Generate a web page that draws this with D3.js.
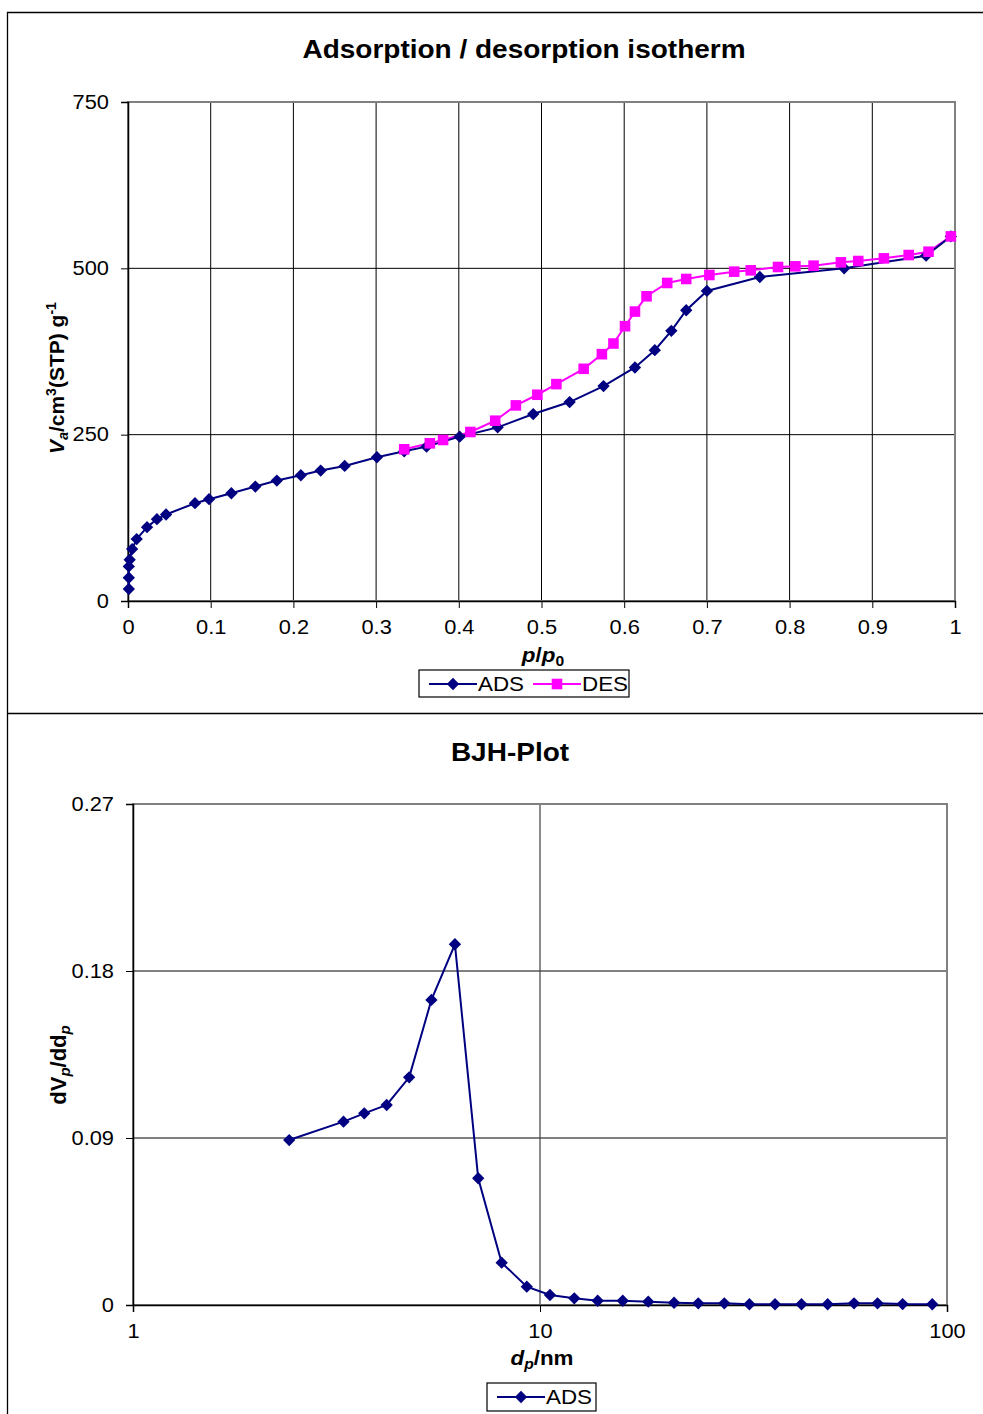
<!DOCTYPE html>
<html>
<head>
<meta charset="utf-8">
<script src="https://cdn.jsdelivr.net/npm/d3@7"></script>
<style>
  body { margin: 0; background: #fff; }
  svg { font-family: "Liberation Sans", Arial, sans-serif; }
</style>
</head>
<body>
<div id="chart"></div>
<script>
// isotherm data
var ads_p = [0.001, 0.001, 0.001, 0.002, 0.005, 0.0105, 0.023, 0.035, 0.046, 0.081, 0.098, 0.125, 0.154, 0.18, 0.209, 0.233, 0.262, 0.301, 0.334, 0.361, 0.401, 0.447, 0.49, 0.534, 0.575, 0.613, 0.637, 0.657, 0.675, 0.70, 0.764, 0.866, 0.965, 0.995];
var ads_v = [18, 35, 52, 62, 78, 93, 111, 123, 130, 147, 153, 162, 172, 181, 189, 196, 203, 216, 225, 232, 247, 261, 281, 299, 323, 351, 377, 406, 437, 466, 487, 500, 519, 548];
var des_p = [0.995, 0.968, 0.944, 0.914, 0.883, 0.862, 0.829, 0.807, 0.786, 0.753, 0.733, 0.703, 0.675, 0.652, 0.627, 0.613, 0.601, 0.587, 0.573, 0.551, 0.518, 0.495, 0.469, 0.444, 0.414, 0.381, 0.365, 0.334];
var des_v = [548, 525, 520, 515, 511, 509, 504, 503, 502, 497, 495, 490, 484, 478, 458, 435, 413, 387, 371, 349, 326, 310, 294, 271, 254, 242, 237, 228];
var iso_xticks = [0, 0.1, 0.2, 0.3, 0.4, 0.5, 0.6, 0.7, 0.8, 0.9, 1];
var iso_yticks = [0, 250, 500, 750];

// BJH pore size distribution
var bjh_d = [2.42, 3.29, 3.70, 4.20, 4.77, 5.41, 6.18, 7.05, 8.05, 9.28, 10.58, 12.14, 13.86, 15.97, 18.45, 21.35, 24.48, 28.37, 32.7, 37.8, 43.9, 50.9, 59.1, 67.5, 77.8, 92.0];
var bjh_v = [0.0889, 0.0988, 0.1033, 0.1078, 0.1227, 0.1644, 0.1944, 0.0683, 0.0228, 0.0099, 0.0054, 0.0036, 0.0023, 0.0023, 0.0018, 0.0012, 0.0009, 0.0009, 0.0004, 0.0004, 0.0004, 0.0004, 0.0009, 0.0009, 0.0005, 0.0004];
var bjh_xticks = [1, 10, 100];
var bjh_yticks = [0, 0.09, 0.18, 0.27];

var W = 983, H = 1414;
var ADS_COLOR = "#000080", DES_COLOR = "#FF00FF";
var SX = 1.12; // the original picture is a bit stretched sideways

var svg = d3.select("#chart").append("svg").attr("width", W).attr("height", H);

// outer frames
svg.append("path")
  .attr("d", "M983,12.5 H7.5 V1414 M7.5,713.5 H983")
  .attr("fill", "none").attr("stroke", "#000").attr("stroke-width", 1.3);

// diamond = square turned 45deg
var diamond = d3.symbol().type(d3.symbolSquare).size(76);
var square = d3.symbol().type(d3.symbolSquare).size(112);
function diaAt(x, y) { return "translate(" + x + "," + y + ") rotate(45)"; }

// text placed at (x,y) and stretched sideways
function wideText(x, y, size) {
  return svg.append("text")
    .attr("transform", "translate(" + x + "," + y + ") scale(" + SX + ",1)")
    .attr("font-size", size);
}

function styleTicks(a, left) {
  a.select(".domain").attr("stroke", "#000").attr("stroke-width", 1.5);
  a.selectAll("text")
    .attr("font-size", 19.5).attr("fill", "#000").attr("font-family", "Liberation Sans, Arial")
    .attr("transform", "scale(" + SX + ",1)");
  if (left) a.selectAll("text").attr("x", -19 / SX);
}

// ---------- chart 1: isotherm ----------
var x1 = d3.scaleLinear().domain([0, 1]).range([128, 955]);
var y1 = d3.scaleLinear().domain([0, 750]).range([601, 102]);
var g1 = svg.append("g");

// gridlines
g1.selectAll(".vgrid").data(iso_xticks.slice(1, -1)).enter().append("line")
  .attr("x1", d => x1(d)).attr("x2", d => x1(d))
  .attr("y1", y1(750)).attr("y2", y1(0))
  .attr("stroke", "#000").attr("stroke-width", 1);
g1.selectAll(".hgrid").data(iso_yticks.slice(1, -1)).enter().append("line")
  .attr("x1", x1(0)).attr("x2", x1(1))
  .attr("y1", d => y1(d)).attr("y2", d => y1(d))
  .attr("stroke", "#000").attr("stroke-width", 1);
// plot border
g1.append("rect")
  .attr("x", x1(0)).attr("y", y1(750))
  .attr("width", x1(1) - x1(0)).attr("height", y1(0) - y1(750))
  .attr("fill", "none").attr("stroke", "#808080").attr("stroke-width", 2);

// axes
g1.append("g").attr("transform", "translate(0," + y1(0) + ")")
  .call(d3.axisBottom(x1).tickValues(iso_xticks).tickSize(7).tickPadding(12)
    .tickFormat(d => d === 0 || d === 1 ? d3.format("d")(d) : d3.format(".1f")(d)))
  .call(a => styleTicks(a, false));
g1.append("g").attr("transform", "translate(" + x1(0) + ",0)")
  .call(d3.axisLeft(y1).tickValues(iso_yticks).tickSize(7))
  .call(a => styleTicks(a, true));

var adsData = ads_p.map((p, i) => [p, ads_v[i]]);
var desData = des_p.map((p, i) => [p, des_v[i]]);
var line1 = d3.line().x(d => x1(d[0])).y(d => y1(d[1]));

g1.append("path").datum(desData).attr("d", line1)
  .attr("fill", "none").attr("stroke", DES_COLOR).attr("stroke-width", 2);
g1.append("path").datum(adsData).attr("d", line1)
  .attr("fill", "none").attr("stroke", ADS_COLOR).attr("stroke-width", 2);
g1.selectAll(".ads").data(adsData).enter().append("path")
  .attr("d", diamond).attr("fill", ADS_COLOR)
  .attr("transform", d => diaAt(x1(d[0]), y1(d[1])));
g1.selectAll(".des").data(desData).enter().append("path")
  .attr("d", square).attr("fill", DES_COLOR)
  .attr("transform", d => "translate(" + x1(d[0]) + "," + y1(d[1]) + ")");

// titles and axis labels
wideText(524, 58, 25).attr("text-anchor", "middle").attr("font-weight", "bold")
  .text("Adsorption / desorption isotherm");

var xl1 = wideText(543, 662, 20).attr("text-anchor", "middle").attr("font-weight", "bold");
xl1.append("tspan").attr("font-style", "italic").text("p");
xl1.append("tspan").text("/");
xl1.append("tspan").attr("font-style", "italic").text("p");
xl1.append("tspan").attr("font-size", 14).attr("dy", 4).text("0");

var yl1 = svg.append("text").attr("transform", "translate(64,378) rotate(-90)")
  .attr("text-anchor", "middle").attr("font-size", 21).attr("font-weight", "bold");
yl1.append("tspan").attr("font-style", "italic").text("V");
yl1.append("tspan").attr("font-style", "italic").attr("font-size", 14).attr("dy", 4).text("a");
yl1.append("tspan").attr("dy", -4).text("/cm");
yl1.append("tspan").attr("font-size", 14).attr("dy", -8).text("3");
yl1.append("tspan").attr("dy", 8).text("(STP) g");
yl1.append("tspan").attr("font-size", 14).attr("dy", -8).text("-1");

// legend 1
var lg1 = svg.append("g").attr("transform", "translate(419,670)");
lg1.append("rect").attr("width", 210).attr("height", 27)
  .attr("fill", "#fff").attr("stroke", "#000").attr("stroke-width", 1.2);
lg1.append("line").attr("x1", 10).attr("x2", 58).attr("y1", 14).attr("y2", 14)
  .attr("stroke", ADS_COLOR).attr("stroke-width", 2);
lg1.append("path").attr("d", diamond).attr("fill", ADS_COLOR).attr("transform", diaAt(34, 14));
lg1.append("text").attr("transform", "translate(59,21) scale(" + SX + ",1)").attr("font-size", 20).text("ADS");
lg1.append("line").attr("x1", 114).attr("x2", 162).attr("y1", 14).attr("y2", 14)
  .attr("stroke", DES_COLOR).attr("stroke-width", 2);
lg1.append("path").attr("d", square).attr("fill", DES_COLOR).attr("transform", "translate(138,14)");
lg1.append("text").attr("transform", "translate(163,21) scale(" + SX + ",1)").attr("font-size", 20).text("DES");

// ---------- chart 2: BJH ----------
var x2 = d3.scaleLog().domain([1, 100]).range([133, 947]);
var y2 = d3.scaleLinear().domain([0, 0.27]).range([1305, 804]);
var g2 = svg.append("g");

g2.selectAll(".hgrid2").data(bjh_yticks.slice(1, -1)).enter().append("line")
  .attr("x1", x2(1)).attr("x2", x2(100))
  .attr("y1", d => y2(d)).attr("y2", d => y2(d))
  .attr("stroke", "#808080").attr("stroke-width", 2);
g2.selectAll(".vgrid2").data(bjh_xticks.slice(1, -1)).enter().append("line")
  .attr("x1", d => x2(d)).attr("x2", d => x2(d))
  .attr("y1", y2(0.27)).attr("y2", y2(0))
  .attr("stroke", "#404040").attr("stroke-width", 1.2);
g2.append("rect")
  .attr("x", x2(1)).attr("y", y2(0.27))
  .attr("width", x2(100) - x2(1)).attr("height", y2(0) - y2(0.27))
  .attr("fill", "none").attr("stroke", "#808080").attr("stroke-width", 2);

g2.append("g").attr("transform", "translate(0," + y2(0) + ")")
  .call(d3.axisBottom(x2).tickValues(bjh_xticks).tickSize(7).tickPadding(12).tickFormat(d3.format("d")))
  .call(a => styleTicks(a, false));
g2.append("g").attr("transform", "translate(" + x2(1) + ",0)")
  .call(d3.axisLeft(y2).tickValues(bjh_yticks).tickSize(7)
    .tickFormat(d => d === 0 ? "0" : d3.format(".2f")(d)))
  .call(a => styleTicks(a, true));

var bjhData = bjh_d.map((d, i) => [d, bjh_v[i]]);
var line2 = d3.line().x(d => x2(d[0])).y(d => y2(d[1]));
g2.append("path").datum(bjhData).attr("d", line2)
  .attr("fill", "none").attr("stroke", ADS_COLOR).attr("stroke-width", 2);
g2.selectAll(".bjh").data(bjhData).enter().append("path")
  .attr("d", diamond).attr("fill", ADS_COLOR)
  .attr("transform", d => diaAt(x2(d[0]), y2(d[1])));

wideText(510, 761, 25).attr("text-anchor", "middle").attr("font-weight", "bold").text("BJH-Plot");

var xl2 = wideText(542, 1365, 20).attr("text-anchor", "middle").attr("font-weight", "bold");
xl2.append("tspan").attr("font-style", "italic").text("d");
xl2.append("tspan").attr("font-style", "italic").attr("font-size", 14).attr("dy", 4).text("p");
xl2.append("tspan").attr("dy", -4).text("/nm");

var yl2 = svg.append("text").attr("transform", "translate(66,1065) rotate(-90)")
  .attr("text-anchor", "middle").attr("font-size", 22).attr("font-weight", "bold");
yl2.append("tspan").text("dV");
yl2.append("tspan").attr("font-style", "italic").attr("font-size", 15).attr("dy", 4).text("p");
yl2.append("tspan").attr("dy", -4).text("/dd");
yl2.append("tspan").attr("font-style", "italic").attr("font-size", 15).attr("dy", 4).text("p");

var lg2 = svg.append("g").attr("transform", "translate(487,1383)");
lg2.append("rect").attr("width", 109).attr("height", 28)
  .attr("fill", "#fff").attr("stroke", "#000").attr("stroke-width", 1.2);
lg2.append("line").attr("x1", 10).attr("x2", 58).attr("y1", 14).attr("y2", 14)
  .attr("stroke", ADS_COLOR).attr("stroke-width", 2);
lg2.append("path").attr("d", diamond).attr("fill", ADS_COLOR).attr("transform", diaAt(34, 14));
lg2.append("text").attr("transform", "translate(59,21) scale(" + SX + ",1)").attr("font-size", 20).text("ADS");
</script>
</body>
</html>
